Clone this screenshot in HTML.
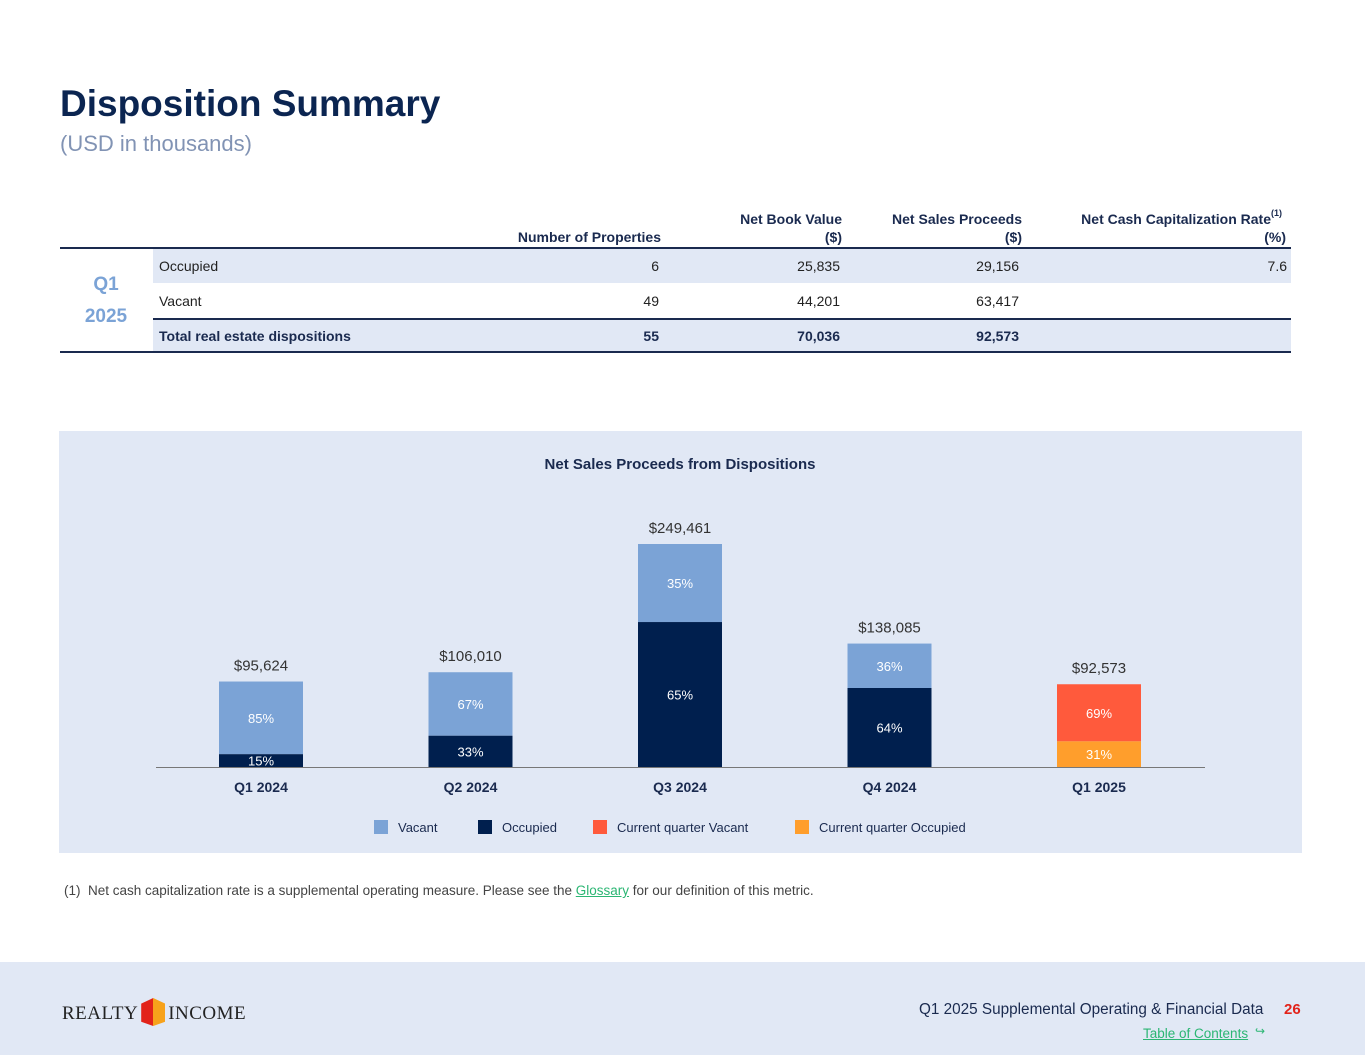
<!DOCTYPE html>
<html><head><meta charset="utf-8"><style>
body{margin:0;width:1365px;height:1055px;position:relative;background:#fff;font-family:"Liberation Sans",sans-serif;overflow:hidden;color:#001F4E}
.a{position:absolute;white-space:nowrap}
.h{font-size:14px;font-weight:bold;color:#1a2a4f;text-align:right}
.c{font-size:14px;color:#222;text-align:right}
.row{position:absolute;left:153px;width:1138px;height:34px}
</style></head><body>
<div class="a" style="left:60px;top:83px;font-size:37px;font-weight:bold;color:#0B2551">Disposition Summary</div>
<div class="a" style="left:60px;top:131px;font-size:22px;color:#8193b4">(USD in thousands)</div>

<div>
<div class="a h" style="right:704px;top:229px">Number of Properties</div>
<div class="a h" style="right:523px;top:210px;line-height:18px">Net Book Value<br>($)</div>
<div class="a h" style="right:343px;top:210px;line-height:18px">Net Sales Proceeds<br>($)</div>
<div class="a h" style="right:94px;top:210px;line-height:18px">Net Cash Capitalization Rate</div>
<div class="a h" style="right:79px;top:228px;line-height:18px">(%)</div>
<div class="a" style="left:1271px;top:208px;font-size:9px;font-weight:bold;color:#1a2a4f">(1)</div>
<div class="a" style="left:60px;top:247px;width:1231px;height:2px;background:#1a2a4f"></div>
<div class="row" style="top:249px;background:#E1E8F5"></div>
<div class="row" style="top:318px;background:#E1E8F5;border-top:2px solid #1a2a4f;height:33px"></div>
<div class="a" style="left:60px;top:351px;width:1231px;height:2px;background:#1a2a4f"></div>
<div class="a" style="left:60px;top:269px;width:92px;text-align:center;font-size:19px;font-weight:bold;color:#7BA3D6;line-height:32px">Q1<br>2025</div>
<div class="a c" style="left:159px;top:258px;text-align:left">Occupied</div>
<div class="a c" style="right:706px;top:258px">6</div>
<div class="a c" style="right:525px;top:258px">25,835</div>
<div class="a c" style="right:346px;top:258px">29,156</div>
<div class="a c" style="right:78px;top:258px">7.6</div>
<div class="a c" style="left:159px;top:293px;text-align:left">Vacant</div>
<div class="a c" style="right:706px;top:293px">49</div>
<div class="a c" style="right:525px;top:293px">44,201</div>
<div class="a c" style="right:346px;top:293px">63,417</div>
<div class="a c" style="left:159px;top:328px;text-align:left;font-weight:bold;color:#1a2a4f">Total real estate dispositions</div>
<div class="a c" style="right:706px;top:328px;font-weight:bold;color:#1a2a4f">55</div>
<div class="a c" style="right:525px;top:328px;font-weight:bold;color:#1a2a4f">70,036</div>
<div class="a c" style="right:346px;top:328px;font-weight:bold;color:#1a2a4f">92,573</div>
</div>

<div class="a" style="left:59px;top:431px;width:1243px;height:422px;background:#E1E8F5"></div>
<svg class="a" style="left:0;top:0" width="1365" height="1055" id="chart"></svg>

<div class="a" style="left:64px;top:883px;font-size:13.5px;color:#444">(1)&nbsp; Net cash capitalization rate is a supplemental operating measure. Please see the <span style="color:#2bb673;text-decoration:underline">Glossary</span> for our definition of this metric.</div>

<div class="a" style="left:0;top:962px;width:1365px;height:93px;background:#E1E8F5"></div>
<div class="a" style="left:62px;top:998px;font-family:'Liberation Serif',serif;font-size:19px;color:#222;letter-spacing:0.5px">REALTY<span style="display:inline-block;width:24px;height:28px;margin:0 3px;vertical-align:-7px;background:linear-gradient(90deg,#e2231a 50%,#f7a21b 50%);clip-path:polygon(50% 0,100% 20%,100% 85%,50% 100%,0 85%,0 20%)"></span>INCOME</div>
<div class="a" style="left:919px;top:1001px;font-size:15.3px;color:#1a2a4f">Q1 2025 Supplemental Operating &amp; Financial Data</div>
<div class="a" style="left:1284px;top:1001px;font-size:15px;font-weight:bold;color:#e2231a">26</div>
<div class="a" style="left:1143px;top:1026px;font-size:13.5px;color:#2bb673;text-decoration:underline">Table of Contents</div>
<div class="a" style="left:1255px;top:1024px;font-size:12px;color:#2bb673">↪</div>

<script>
const categories=["Q1 2024","Q2 2024","Q3 2024","Q4 2024","Q1 2025"];
const totals=[95624,106010,249461,138085,92573];
const occupiedPct=[15,33,65,64,31];
const vacantPct=[85,67,35,36,69];
const totalLabels=["$95,624","$106,010","$249,461","$138,085","$92,573"];
const svg=document.getElementById('chart');
const NS='http://www.w3.org/2000/svg';
const base=767, scale=223/249461, x0=261, step=209.5, bw=84;
const xPos=i=>x0+i*step;
const yH=v=>v*scale;
function el(t,a,txt){const e=document.createElementNS(NS,t);for(const k in a)e.setAttribute(k,a[k]);if(txt!=null)e.textContent=txt;svg.appendChild(e);return e;}
let t=el('text',{x:680,y:469,'text-anchor':'middle','font-size':15,'font-weight':'bold',fill:'#1a2a4f','font-family':'Liberation Sans'},'Net Sales Proceeds from Dispositions');


categories.forEach((c,i)=>{
  const cx=xPos(i),h=yH(totals[i]);
  const ho=h*occupiedPct[i]/100, hv=h-ho;
  const last=i===categories.length-1;
  let r=el('rect',{x:cx-bw/2,y:base-h,width:bw,height:hv,fill:last?'#FF5A3C':'#7BA3D6'});
  
  
  r=el('rect',{x:cx-bw/2,y:base-ho,width:bw,height:ho,fill:last?'#FF9E2C':'#001F4E'});
  
  
  const f={'text-anchor':'middle','font-size':13,fill:'#fff','font-family':'Liberation Sans'};
  let l=el('text',Object.assign({x:cx,y:base-h+hv/2+5},f),vacantPct[i]+'%');
  
  
  l=el('text',Object.assign({x:cx,y:Math.min(base-ho/2+5,base-1)},f),occupiedPct[i]+'%');
  
  
  l=el('text',{x:cx,y:base-h-11,'text-anchor':'middle','font-size':15,fill:'#333','font-family':'Liberation Sans'},totalLabels[i]);
  
  
  l=el('text',{x:cx,y:792,'text-anchor':'middle','font-size':14,'font-weight':'bold',fill:'#1a2a4f','font-family':'Liberation Sans'},c);
  
  
});
let ax=el('line',{x1:156,x2:1205,y1:base+0.5,y2:base+0.5,stroke:'#777','stroke-width':1});


const legend=[["Vacant","#7BA3D6",374],["Occupied","#001F4E",478],["Current quarter Vacant","#FF5A3C",593],["Current quarter Occupied","#FF9E2C",795]];
legend.forEach(([n,c,x])=>{
  const r=el('rect',{x:x,y:820,width:14,height:14,fill:c});
  
  
  const l=el('text',{x:x+24,y:832,'font-size':13,fill:'#1a2a4f','font-family':'Liberation Sans'},n);
  
  
});
</script>
</body></html>
